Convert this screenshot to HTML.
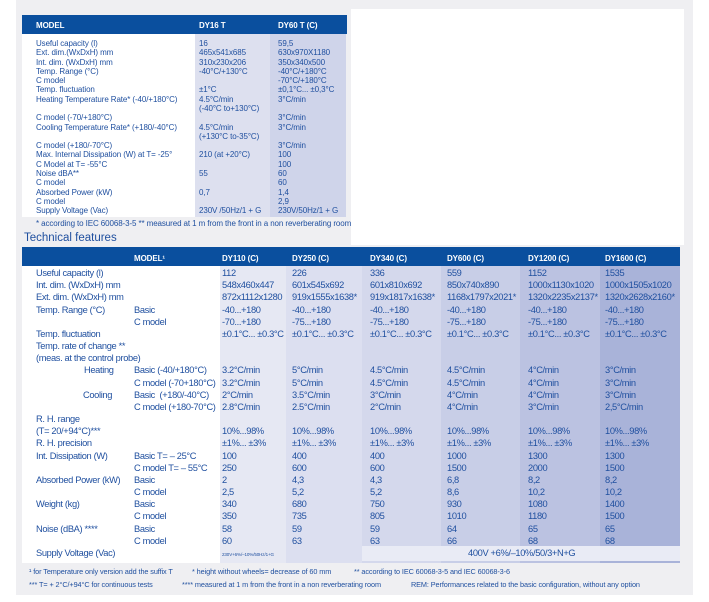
<!DOCTYPE html>
<html><head><meta charset="utf-8"><style>
*{margin:0;padding:0;box-sizing:border-box}
body{width:709px;height:602px;background:#fff;position:relative;overflow:hidden;font-family:"Liberation Sans",sans-serif;color:#1f4f9f}
.a{position:absolute}
.t{position:absolute;white-space:nowrap;font-size:8px;line-height:9px;letter-spacing:-0.1px}
.s{position:absolute;white-space:nowrap;font-size:9.3px;line-height:11px;letter-spacing:-0.35px}
.h{color:#fff;font-weight:bold;font-size:8px}
</style></head><body>
<div class="a" style="left:16px;top:0;width:677px;height:595px;background:#efeff2"></div>
<div class="a" style="left:351px;top:9px;width:333px;height:236px;background:#fff"></div>
<!-- top table -->
<div class="a" style="left:22px;top:15px;width:325px;height:19px;background:#0a4f9e"></div>
<div class="a" style="left:22px;top:34px;width:173px;height:183px;background:#fff"></div>
<div class="a" style="left:195px;top:34px;width:75px;height:183px;background:#dde0ef"></div>
<div class="a" style="left:270px;top:34px;width:76px;height:183px;background:#cfd4ea"></div>
<div class="t h" style="left:36px;top:21px">MODEL</div>
<div class="t h" style="left:199px;top:21px">DY16 T</div>
<div class="t h" style="left:278px;top:21px">DY60 T (C)</div>
<div class="t" style="left:36px;top:39px;line-height:9.28px">Useful capacity (l)<br>Ext. dim.(WxDxH) mm<br>Int. dim. (WxDxH) mm<br>Temp. Range (°C)<br>C model<br>Temp. fluctuation<br>Heating Temperature Rate* (-40/+180°C)<br>&nbsp;<br>C model (-70/+180°C)<br>Cooling Temperature Rate* (+180/-40°C)<br>&nbsp;<br>C model (+180/-70°C)<br>Max. Internal Dissipation (W) at T= -25°<br>C Model at T= -55°C<br>Noise dBA**<br>C model<br>Absorbed Power (kW)<br>C model<br>Supply Voltage (Vac)</div>
<div class="t" style="left:199px;top:39px;line-height:9.28px">16<br>465x541x685<br>310x230x206<br>-40°C/+130°C<br>&nbsp;<br>±1°C<br>4.5°C/min<br>(-40°C to+130°C)<br>&nbsp;<br>4.5°C/min<br>(+130°C to-35°C)<br>&nbsp;<br>210 (at +20°C)<br>&nbsp;<br>55<br>&nbsp;<br>0,7<br>&nbsp;<br>230V /50Hz/1 + G</div>
<div class="t" style="left:278px;top:39px;line-height:9.28px">59,5<br>630x970X1180<br>350x340x500<br>-40°C/+180°C<br>-70°C/+180°C<br>±0,1°C... ±0,3°C<br>3°C/min<br>&nbsp;<br>3°C/min<br>3°C/min<br>&nbsp;<br>3°C/min<br>100<br>100<br>60<br>60<br>1,4<br>2,9<br>230V/50Hz/1 + G</div>
<div class="t" style="left:36px;top:219px">* according to IEC 60068-3-5 ** measured at 1 m from the front in a non reverberating room</div>
<div class="a" style="left:24px;top:232px;font-size:11.5px;color:#1f4f9f">Technical features</div>
<!-- second table -->
<div class="a" style="left:22px;top:247px;width:658px;height:19px;background:#0a4f9e"></div>
<div class="a" style="left:22px;top:266px;width:198px;height:297px;background:#fff"></div>
<div class="a" style="left:220px;top:266px;width:66px;height:297px;background:#e6e8f3"></div>
<div class="a" style="left:286px;top:266px;width:76px;height:297px;background:#dcdff0"></div>
<div class="a" style="left:362px;top:266px;width:79px;height:297px;background:#d4d8ec"></div>
<div class="a" style="left:441px;top:266px;width:79px;height:297px;background:#c8cee7"></div>
<div class="a" style="left:520px;top:266px;width:80px;height:297px;background:#bbc2e1"></div>
<div class="a" style="left:600px;top:266px;width:80px;height:297px;background:#a9b3d9"></div>
<div class="a" style="left:362px;top:546px;width:318px;height:15px;background:#e9ebf5"></div>
<div class="t h" style="left:134px;top:254px">MODEL¹</div>
<div class="t h" style="left:222px;top:254px">DY110 (C)</div>
<div class="t h" style="left:292px;top:254px">DY250 (C)</div>
<div class="t h" style="left:370px;top:254px">DY340 (C)</div>
<div class="t h" style="left:447px;top:254px">DY600 (C)</div>
<div class="t h" style="left:528px;top:254px">DY1200 (C)</div>
<div class="t h" style="left:605px;top:254px">DY1600 (C)</div>
<div class="s" style="left:36px;top:267px;line-height:12.17px">Useful capacity (l)<br>Int. dim. (WxDxH) mm<br>Ext. dim. (WxDxH) mm<br>Temp. Range (°C)<br>&nbsp;<br>Temp. fluctuation<br>Temp. rate of change **<br>(meas. at the control probe)<br><span style="padding-left:48px">Heating</span><br>&nbsp;<br><span style="padding-left:47px">Cooling</span><br>&nbsp;<br>R. H. range<br>(T= 20/+94°C)***<br>R. H. precision<br>Int. Dissipation (W)<br>&nbsp;<br>Absorbed Power (kW)<br>&nbsp;<br>Weight (kg)<br>&nbsp;<br>Noise (dBA) ****<br>&nbsp;<br>Supply Voltage (Vac)</div>
<div class="s" style="left:134px;top:267px;line-height:12.17px">&nbsp;<br>&nbsp;<br>&nbsp;<br>Basic<br>C model<br>&nbsp;<br>&nbsp;<br>&nbsp;<br>Basic (-40/+180°C)<br>C model (-70+180°C)<br>Basic &nbsp;(+180/-40°C)<br>C model (+180-70°C)<br>&nbsp;<br>&nbsp;<br>&nbsp;<br>Basic T= – 25°C<br>C model T= – 55°C<br>Basic<br>C model<br>Basic<br>C model<br>Basic<br>C model</div>
<div class="s" style="left:222px;top:267px;line-height:12.17px">112<br>548x460x447<br>872x1112x1280<br>-40...+180<br>-70...+180<br>±0.1°C... ±0.3°C<br>&nbsp;<br>&nbsp;<br>3.2°C/min<br>3.2°C/min<br>2°C/min<br>2.8°C/min<br>&nbsp;<br>10%...98%<br>±1%... ±3%<br>100<br>250<br>2<br>2,5<br>340<br>350<br>58<br>60</div>
<div class="t" style="left:222px;top:550px;font-size:4.5px">230V+6%/–10%/50Hz/1+G</div>
<div class="s" style="left:292px;top:267px;line-height:12.17px">226<br>601x545x692<br>919x1555x1638*<br>-40...+180<br>-75...+180<br>±0.1°C... ±0.3°C<br>&nbsp;<br>&nbsp;<br>5°C/min<br>5°C/min<br>3.5°C/min<br>2.5°C/min<br>&nbsp;<br>10%...98%<br>±1%... ±3%<br>400<br>600<br>4,3<br>5,2<br>680<br>735<br>59<br>63</div>
<div class="s" style="left:370px;top:267px;line-height:12.17px">336<br>601x810x692<br>919x1817x1638*<br>-40...+180<br>-75...+180<br>±0.1°C... ±0.3°C<br>&nbsp;<br>&nbsp;<br>4.5°C/min<br>4.5°C/min<br>3°C/min<br>2°C/min<br>&nbsp;<br>10%...98%<br>±1%... ±3%<br>400<br>600<br>4,3<br>5,2<br>750<br>805<br>59<br>63</div>
<div class="s" style="left:447px;top:267px;line-height:12.17px">559<br>850x740x890<br>1168x1797x2021*<br>-40...+180<br>-75...+180<br>±0.1°C... ±0.3°C<br>&nbsp;<br>&nbsp;<br>4.5°C/min<br>4.5°C/min<br>4°C/min<br>4°C/min<br>&nbsp;<br>10%...98%<br>±1%... ±3%<br>1000<br>1500<br>6,8<br>8,6<br>930<br>1010<br>64<br>66</div>
<div class="s" style="left:528px;top:267px;line-height:12.17px">1152<br>1000x1130x1020<br>1320x2235x2137*<br>-40...+180<br>-75...+180<br>±0.1°C... ±0.3°C<br>&nbsp;<br>&nbsp;<br>4°C/min<br>4°C/min<br>4°C/min<br>3°C/min<br>&nbsp;<br>10%...98%<br>±1%... ±3%<br>1300<br>2000<br>8,2<br>10,2<br>1080<br>1180<br>65<br>68</div>
<div class="s" style="left:605px;top:267px;line-height:12.17px">1535<br>1000x1505x1020<br>1320x2628x2160*<br>-40...+180<br>-75...+180<br>±0.1°C... ±0.3°C<br>&nbsp;<br>&nbsp;<br>3°C/min<br>3°C/min<br>3°C/min<br>2,5°C/min<br>&nbsp;<br>10%...98%<br>±1%... ±3%<br>1300<br>1500<br>8,2<br>10,2<br>1400<br>1500<br>65<br>68</div>
<div class="s" style="left:468px;top:548px">400V +6%/–10%/50/3+N+G</div>
<div class="t" style="left:29px;top:567px;font-size:7.3px">¹ for Temperature only version add the suffix T</div>
<div class="t" style="left:192px;top:567px;font-size:7.3px">* height without wheels= decrease of 60 mm</div>
<div class="t" style="left:354px;top:567px;font-size:7.3px">** according to IEC 60068-3-5 and IEC 60068-3-6</div>
<div class="t" style="left:29px;top:580px;font-size:7.3px">*** T= + 2°C/+94°C for continuous tests</div>
<div class="t" style="left:182px;top:580px;font-size:7.3px">**** measured at 1 m from the front in a non reverberating room</div>
<div class="t" style="left:411px;top:580px;font-size:7.3px">REM: Performances related to the basic configuration, without any option</div>
</body></html>
